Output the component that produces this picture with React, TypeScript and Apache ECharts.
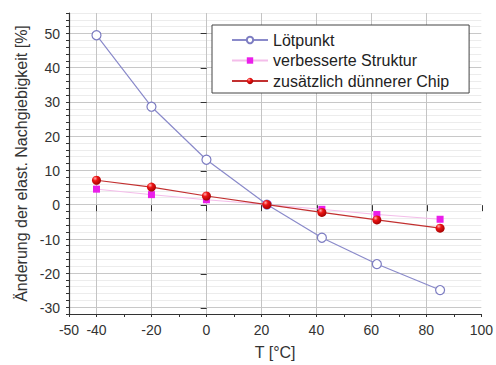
import React, { useEffect, useRef } from "react";
import * as echarts from "echarts";

const temps = [-40, -20, 0, 22, 42, 62, 85];
const lotpunkt = [49.5, 28.6, 13.1, 0, -9.7, -17.4, -25.0];
const verbessert = [4.5, 2.9, 1.4, 0, -1.4, -2.9, -4.3];
const duenner = [7.1, 5.1, 2.5, 0, -2.3, -4.5, -6.9];
const seriesNames = ["Lötpunkt", "verbesserte Struktur", "zusätzlich dünnerer Chip"];

const FONT = "Liberation Sans, Arial, sans-serif";
const W = 496, H = 365;
const L = 69, R = 14, T = 13, B = 50;
const XMIN = -50, XMAX = 100, YMIN = -32, YMAX = 56;
const kx = (W - L - R) / (XMAX - XMIN);
const ky = (H - T - B) / (YMAX - YMIN);

const pairs = (ys: number[]) => temps.map((t, i) => [t, ys[i]]);

export default function App() {
  const ref = useRef<HTMLDivElement>(null);
  useEffect(() => {
    document.body.style.margin = "0";
    const chart = echarts.init(ref.current!, null, { renderer: "svg" });
    const axisColor = "#333";
    chart.setOption({
      animation: false,
      backgroundColor: "#fff",
      textStyle: { fontFamily: FONT },
      grid: [
        { left: L, right: R, top: T, bottom: B },
        { left: L, right: R, top: T + (YMAX - 50) * ky, bottom: B + (-30 - YMIN) * ky },
        { left: L + 10 * kx, right: R, top: T, bottom: B },
      ],
      xAxis: [
        {
          gridIndex: 0, type: "value", min: XMIN, max: XMAX, interval: 10,
          axisLine: { show: true, onZero: false, lineStyle: { color: axisColor, width: 1.2 } },
          axisTick: { show: true, length: 3, lineStyle: { color: axisColor } },
          axisLabel: {
            show: true, color: "#333", fontSize: 14, fontFamily: FONT, margin: 9,
            formatter: (v: number) => (v === -50 || v % 20 === 0 ? String(v) : ""),
          },
          splitLine: {
            show: true, showMinLine: true, showMaxLine: false,
            lineStyle: { color: ["rgba(0,0,0,0)", "#c4c4c4"], width: 1 },
          },
          name: "T [°C]", nameLocation: "middle", nameGap: 30,
          nameTextStyle: { fontSize: 16, color: "#333", fontFamily: FONT },
        },
        { gridIndex: 1, type: "value", min: XMIN, max: XMAX, show: false },
        {
          gridIndex: 2, type: "value", min: -40, max: XMAX, interval: 20,
          axisLine: { show: false },
          axisTick: { show: true, length: 6, lineStyle: { color: axisColor } },
          axisLabel: { show: false },
          splitLine: { show: false },
        },
      ],
      yAxis: [
        {
          gridIndex: 0, type: "value", min: YMIN, max: YMAX, interval: 2,
          axisLine: { show: true, onZero: false, lineStyle: { color: axisColor, width: 1.2 } },
          axisTick: { show: true, length: 3, lineStyle: { color: axisColor } },
          axisLabel: { show: false },
          splitLine: {
            show: true, showMinLine: true, showMaxLine: true,
            lineStyle: { color: ["#ececec", "#c8c8c8", "#ececec", "#ececec", "#ececec"], width: 1 },
          },
          name: "Änderung der elast. Nachgiebigkeit [%]", nameLocation: "middle", nameGap: 40,
          nameTextStyle: { fontSize: 16, color: "#333", fontFamily: FONT },
        },
        {
          gridIndex: 1, type: "value", min: -30, max: 50, interval: 10,
          axisLine: { show: false },
          axisTick: { show: true, length: 6, lineStyle: { color: axisColor } },
          axisLabel: { show: true, color: "#333", fontSize: 14, fontFamily: FONT, margin: 9 },
          splitLine: { show: false },
        },
        { gridIndex: 2, type: "value", min: YMIN, max: YMAX, show: false },
      ],
      legend: {
        orient: "vertical", left: 212, top: 25,
        padding: [7, 20, 4, 19], itemWidth: 36, itemHeight: 8, itemGap: 4.5,
        backgroundColor: "#fff", borderColor: "#444", borderWidth: 1, borderRadius: 0,
        textStyle: { fontSize: 16, color: "#222", fontFamily: FONT },
        data: seriesNames,
      },
      series: [
        {
          name: seriesNames[0], type: "line", xAxisIndex: 0, yAxisIndex: 0,
          data: pairs(lotpunkt), symbol: "circle", symbolSize: 9,
          itemStyle: { color: "#fff", borderColor: "#7d7dc2", borderWidth: 1.2 },
          lineStyle: { color: "#8a8aca", width: 1.2 }, z: 3,
        },
        {
          name: seriesNames[1], type: "line", xAxisIndex: 0, yAxisIndex: 0,
          data: pairs(verbessert), symbol: "rect", symbolSize: 7,
          itemStyle: { color: "#ea1fea" },
          lineStyle: { color: "#f4bdea", width: 1 }, z: 4,
        },
        {
          name: seriesNames[2], type: "line", xAxisIndex: 0, yAxisIndex: 0,
          data: pairs(duenner), symbol: "circle", symbolSize: 9,
          itemStyle: {
            color: {
              type: "radial", x: 0.35, y: 0.3, r: 0.75,
              colorStops: [
                { offset: 0, color: "#ffb0b0" },
                { offset: 0.35, color: "#ee1515" },
                { offset: 1, color: "#a00000" },
              ],
            },
          },
          lineStyle: { color: "#c23030", width: 1.2 }, z: 5,
        },
      ],
    });
    return () => chart.dispose();
  }, []);
  return <div ref={ref} style={{ width: W, height: H }} />;
}
